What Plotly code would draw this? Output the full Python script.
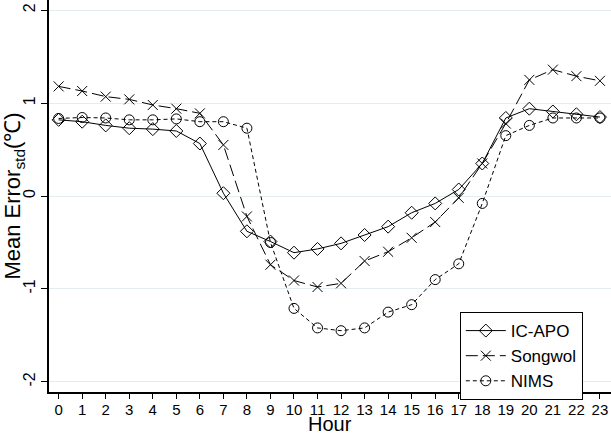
import plotly.graph_objects as go

hours = list(range(24))
hour_labels = [str(h) for h in hours]
ic_apo = [0.82, 0.80, 0.76, 0.73, 0.72, 0.70, 0.565, 0.03, -0.38, -0.49, -0.61, -0.57,
          -0.51, -0.42, -0.33, -0.18, -0.08, 0.07, 0.35, 0.84, 0.94, 0.91, 0.88, 0.85]
songwol = [1.18, 1.13, 1.07, 1.04, 0.98, 0.94, 0.89, 0.55, -0.22, -0.74, -0.91, -0.98,
           -0.94, -0.70, -0.60, -0.45, -0.28, -0.02, 0.35, 0.78, 1.25, 1.36, 1.29, 1.24]
nims = [0.835, 0.845, 0.84, 0.82, 0.82, 0.83, 0.80, 0.80, 0.73, -0.50, -1.21, -1.42,
        -1.45, -1.42, -1.25, -1.17, -0.90, -0.73, -0.08, 0.65, 0.76, 0.84, 0.84, 0.84]
y_ticks = [-2, -1, 0, 1, 2]

FONT = "Liberation Sans, Arial, sans-serif"

fig = go.Figure()
series = [
    ("IC-APO", ic_apo, "solid", "diamond-open"),
    ("Songwol", songwol, "12px,5px", "x-thin-open"),
    ("NIMS", nims, "4px,3px", "circle-open"),
]
for name, vals, dash, sym in series:
    fig.add_trace(go.Scatter(
        x=hours, y=vals, name=name, mode="lines+markers",
        line=dict(color="black", width=1, dash=dash),
        marker=dict(symbol=sym, size=10, color="black", line=dict(color="black", width=1)),
    ))

fig.update_layout(
    width=611, height=436,
    margin=dict(l=49, r=0, t=0, b=44, autoexpand=False),
    paper_bgcolor="white", plot_bgcolor="white",
    font=dict(family=FONT, color="black", size=16),
    showlegend=True,
    legend=dict(x=0.731, y=0.204, xanchor="left", yanchor="top",
                bordercolor="black", borderwidth=1, bgcolor="white",
                font=dict(size=17, family=FONT), tracegroupgap=0,
                itemwidth=40),
    annotations=[dict(text="Hour", xref="paper", yref="paper", x=0.5, y=-0.1122,
                      xanchor="center", yanchor="bottom", showarrow=False,
                      borderpad=0, font=dict(size=20, family=FONT, color="black"))],
)
fig.update_xaxes(
    range=[-0.41, 23.47], tickmode="array", tickvals=hours, ticktext=hour_labels,
    ticks="outside", ticklen=5, tickcolor="black", showline=True, linecolor="black",
    linewidth=1.5, showgrid=False, zeroline=False, tickfont=dict(size=15),
    ticklabelstandoff=-2, automargin=False,
)
fig.update_yaxes(
    range=[-2.11, 2.11], tickmode="array", tickvals=y_ticks, ticktext=[str(v) for v in y_ticks],
    ticks="outside", ticklen=6, tickcolor="black", showline=True, linecolor="black",
    linewidth=1.5, showgrid=True, gridcolor="#e3ecee", gridwidth=1, zeroline=False,
    tickangle=-90, tickfont=dict(size=16), automargin=False,
    title=dict(text="Mean Error<sub>std</sub>(℃)", font=dict(size=22), standoff=2),
)

fig.write_html("out.html")
